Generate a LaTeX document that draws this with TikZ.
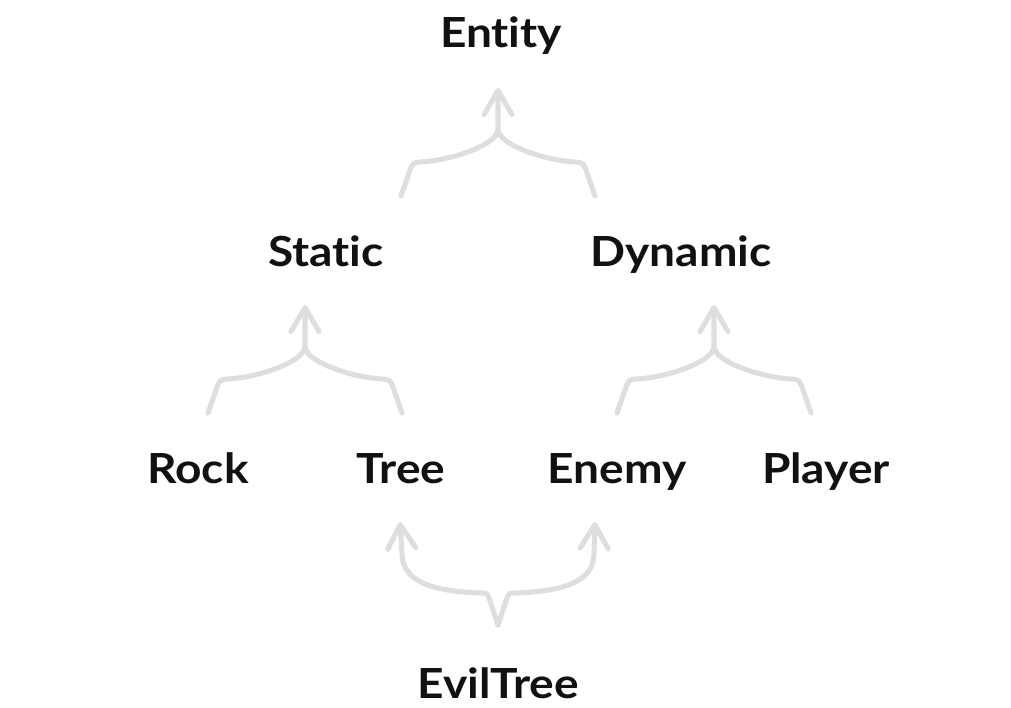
\documentclass[tikz,border=0pt]{standalone}
\usepackage{fontspec}
\setmainfont[Ligatures=NoCommon,FakeStretch=1.11]{Lato}
\usetikzlibrary{arrows.meta,calc}
\definecolor{linkgray}{RGB}{222,222,222}
\definecolor{inkblack}{RGB}{17,17,17}

\begin{document}
\begin{tikzpicture}[
        x=0.025cm, y=-0.025cm,
        cls/.style={
            anchor=base,
            inner sep=0pt,
            text=inkblack,
            font=\bfseries\fontsize{29.5}{34}\selectfont
        },
        link/.style={
            draw=linkgray,
            line width=3.6pt,
            line cap=round,
            line join=round
        },
        tip/.style={-{Straight Barb[length=0.6cm,width=0.7cm,round]}},
        % two children meeting in one arrow
        upbrace/.pic={
            \draw[link] (-97,108) -- (-88,82) .. controls (-85,75) .. (-78,74)
                .. controls (-50,73) and (-2,58) .. (0,42);
            \draw[link,tip] (97,108) -- (88,82) .. controls (85,75) .. (78,74)
                .. controls (50,73) and (2,58) .. (0,42) -- (0,0);
        },
        % one child splitting into two arrows
        downbrace/.pic={
            \draw[link,tip] (0,0) -- (-9,-27) .. controls (-11,-32) .. (-18,-32)
                .. controls (-70,-34) and (-96,-45) .. (-96,-72) -- (-98,-103);
            \draw[link,tip] (0,0) -- (9,-27) .. controls (11,-32) .. (18,-32)
                .. controls (70,-34) and (96,-45) .. (96,-72) -- (97,-103);
        }
    ]

        \useasboundingbox (0,0) rectangle (1011,708);

        \node[cls] (entity) at (501,48) {Entity};

        \node[cls] (static) at (326,267) {Static};
        \node[cls] (dynamic) at (681,267) {Dynamic};

        \node[cls] (rock) at (198,483) {Rock};
        \node[cls] (tree) at (401,483) {Tree};
        \node[cls] (enemy) at (617,483) {Enemy};
        \node[cls] (player) at (826,483) {Player};

        \node[cls] (eviltree) at (498,698) {EvilTree};

        \pic at ($(entity.base)+(-3,40)$) {upbrace};
        \pic at ($(static.base)+(-21,38)$) {upbrace};
        \pic at ($(dynamic.base)+(33,38)$) {upbrace};
        \pic at ($(eviltree.base)+(0,-73)$) {downbrace};

    \end{tikzpicture}
\end{document}
